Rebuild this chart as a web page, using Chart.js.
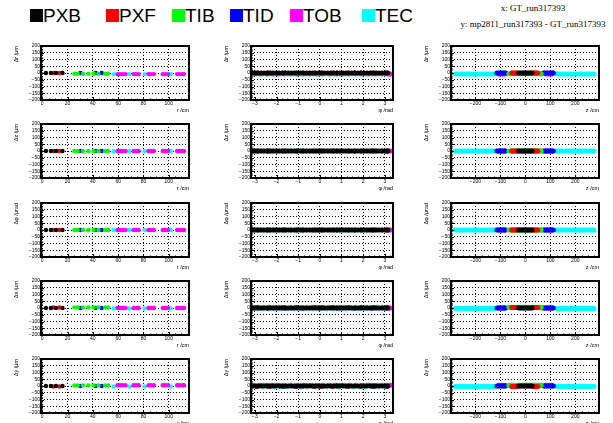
<!DOCTYPE html>
<html>
<head>
<meta charset="utf-8">
<script src="https://cdn.jsdelivr.net/npm/chart.js@4.4.0/dist/chart.umd.min.js"></script>
<style>
  body { margin: 0; width: 613px; height: 423px; background: #fff; position: relative; overflow: hidden;
         font-family: "Liberation Sans", Arial, sans-serif; }
  .sw { position: absolute; top: 9px; width: 13px; height: 13px; }
  .lab { position: absolute; top: 6px; font-size: 19px; line-height: 19px; color: #000; }
  .info { position: absolute; left: 458px; top: 0px; width: 150px; text-align: center;
          font-family: "Liberation Serif", "Times New Roman", serif; font-size: 9px; line-height: 16px; white-space: nowrap; }
  canvas { position: absolute; }
</style>
</head>
<body>
<div class="info">x: GT_run317393<br>y: mp2811_run317393 - GT_run317393</div>
<script>
const detectors = ['PXB', 'PXF', 'TIB', 'TID', 'TOB', 'TEC'];
const detColors = ['#000000', '#ff0000', '#00ff00', '#0000ff', '#ff00ff', '#00ffff'];

// module radius r (cm), read from the left column
const pxbR = [2.9, 6.8, 10.9, 16.0];
const pxfR = [8.9, 13.5];
const tibR = [25.4, 28.0, 32.2, 36.5, 40.6, 44.4, 49.8, 52.0];
const tidR = [30.2, 42.2, 47.0];
const tobR = [59.5, 61.5, 63.5, 65.8, 72.2, 74.2, 76.2, 84.0, 86.0, 88.2, 95.2, 97.2, 99.4,
              106.6, 108.6, 110.8, 112.0];
const tecR = [56.4, 68.8, 80.8, 101.6];

// module azimuth phi (rad), middle column
const pxbPhi = [-3.10, -2.97, -2.84, -2.71, -2.58, -2.44, -2.30, -2.16, -2.02, -1.88, -1.74, -1.60, -1.46,
                -1.32, -1.18, -1.04, -0.90, -0.76, -0.62, -0.48, -0.34, -0.20, -0.06, 0.08, 0.22, 0.36,
                0.50, 0.64, 0.78, 0.92, 1.06, 1.20, 1.34, 1.48, 1.62, 1.76, 1.90, 2.04, 2.18, 2.32, 2.46,
                2.60, 2.74, 2.88, 3.02, 3.14];
const pxfPhi = [-2.9, -2.3, -1.7, -1.1, -0.25, 0.1, 0.58, 1.3, 1.9, 2.5, 3.1];
const tibPhi = [-3.1, -2.85, -2.6, -2.35, -2.1, -1.85, -1.6, -1.35, -1.1, -0.85, -0.6, -0.35, -0.1, 0.15,
                0.4, 0.65, 0.9, 1.15, 1.4, 1.65, 1.9, 2.15, 2.4, 2.65, 2.9, 3.12];
const tidPhi = [-3.17, -2.4, -1.6, -0.8, 0.0, 0.8, 1.6, 2.4, 3.1];
const tobPhi = [-3.05, -2.75, -2.45, -2.2, -1.95, -1.65, -1.35, -1.05, -0.75, -0.45, -0.15, 0.15, 0.45,
                0.75, 1.05, 1.35, 1.65, 1.95, 2.25, 2.55, 2.85, 3.1, 3.2, 3.26];
const tecPhi = [-3.12, -2.9, -2.65, -2.4, -2.1, -1.8, -1.5, -1.2, -0.9, -0.6, -0.3, 0.0, 0.3, 0.6, 0.9,
                1.2, 1.5, 1.8, 2.1, 2.4, 2.7, 3.0];

// module z (cm), right column
const pxbZ = [-27, -21, -15, -9, -3, 3, 9, 15, 21, 27];
const pxfZ = [-55, -50, -45, -40, -35, -31, 31, 35, 40, 45, 50];
const tibZ = [-66, -60, -54, -48, -42, -36, -30, -24, -18, -12, -6, 0, 6, 12, 18, 24, 30, 36, 42, 48,
              54, 59, 63];
const tidZ = [-114, -108, -102, -96, -90, -84, -79, 73, 78, 84, 90, 96, 102, 108, 112];
const tobZ = [-106, -98, -90, -82, 62, 82, 90, 98, 106];
const tecZ = [-281, -273, -265, -257, -249, -241, -233, -225, -217, -209, -201, -193, -185, -177, -169,
              -161, -153, -145, -137, -129, -124, 126, 132, 140, 148, 156, 164, 172, 180, 188, 196, 204,
              212, 220, 228, 236, 244, 252, 260, 268, 275];

// typical difference per detector (um / urad), one list per row
const deltaR = [0, 0, -6, 0, -8, -8];
const deltaZ = [0, 0, 0, 0, 0, 0];
const deltaPhi = [0, 0, 0, 0, 0, 0];
const deltaX = [0, 4, 5, 0, 0, -4];
const deltaY = [0, -4, 5, 0, 6, -4];

const rTicks = [0, 20, 40, 60, 80, 100];
const phiTicks = [-3, -2, -1, 0, 1, 2, 3];
const zTicks = [-200, -100, 0, 100, 200];
const deltaTicks = [-200, -150, -100, -50, 0, 50, 100, 150, 200];

const xTitles = ['r /cm', 'φ /rad', 'z /cm'];
const yTitles = ['Δr /μm', 'Δz /μm', 'Δφ /μrad', 'Δx /μm', 'Δy /μm'];

const columnX = [
  [pxbR, pxfR, tibR, tidR, tobR, tecR],
  [pxbPhi, pxfPhi, tibPhi, tidPhi, tobPhi, tecPhi],
  [pxbZ, pxfZ, tibZ, tidZ, tobZ, tecZ]
];
const rowDelta = [deltaR, deltaZ, deltaPhi, deltaX, deltaY];
const columnTicks = [rTicks, phiTicks, zTicks];

// layout of the frames
const colBox = [{ left: 41, width: 148, min: -1, max: 116, minor: 5 },
                { left: 251, width: 142, min: -3.18, max: 3.38, minor: 0.25 },
                { left: 451, width: 148, min: -298, max: 295, minor: 25 }];
const rowTop = [46, 124, 203, 281, 359];
const plotH = 54;
const yAxisW = 29, xAxisH = 14, padTop = 4, padRight = 5;

Chart.defaults.font.family = '"Liberation Sans", Arial, sans-serif';
Chart.defaults.color = '#000';

// legend along the top
const legendX = [30, 106, 172, 230, 290, 362];
detectors.forEach((d, i) => {
  const sw = document.createElement('div');
  sw.className = 'sw';
  sw.style.left = legendX[i] + 'px';
  sw.style.background = detColors[i];
  document.body.appendChild(sw);
  const lab = document.createElement('div');
  lab.className = 'lab';
  lab.style.left = (legendX[i] + 13) + 'px';
  lab.textContent = d;
  document.body.appendChild(lab);
});

function fmt(v) {
  return String(v).replace('-', '\u2212');
}

// ROOT style frame with inner tick marks
const framePlugin = {
  id: 'frame',
  afterDraw(chart) {
    const { ctx, chartArea: a } = chart;
    const xs = chart.scales.x, ys = chart.scales.y;
    const minor = chart.options.plugins.frame.minor;
    const major = chart.options.plugins.frame.major;
    ctx.save();
    ctx.strokeStyle = '#000';
    ctx.lineWidth = 1;
    ctx.beginPath();
    for (let v = -200; v <= 200; v += 10) {
      const p = Math.round(ys.getPixelForValue(v)) + 0.5;
      const len = v % 50 === 0 ? 3 : 1.5;
      ctx.moveTo(a.left, p);
      ctx.lineTo(a.left + len, p);
    }
    let start = Math.ceil(xs.min / minor) * minor;
    for (let v = start; v <= xs.max + 1e-9; v += minor) {
      const p = Math.round(xs.getPixelForValue(v)) + 0.5;
      const isMajor = major.some(m => Math.abs(m - v) < 1e-6);
      const len = isMajor ? 3 : 1.5;
      ctx.moveTo(p, a.bottom);
      ctx.lineTo(p, a.bottom - len);
    }
    ctx.stroke();
    ctx.lineWidth = 2;
    ctx.strokeRect(a.left, a.top, a.right - a.left, a.bottom - a.top);
    ctx.restore();
  }
};

function makePanel(row, col) {
  const box = colBox[col];
  const canvas = document.createElement('canvas');
  const w = box.width + yAxisW + padRight;
  const h = plotH + padTop + xAxisH;
  canvas.width = w;
  canvas.height = h;
  canvas.style.left = (box.left - yAxisW) + 'px';
  canvas.style.top = (rowTop[row] - padTop) + 'px';
  document.body.appendChild(canvas);

  const datasets = detectors.map((d, i) => ({
    label: d,
    data: columnX[col][i].map(x => ({ x: x, y: rowDelta[row][i] })),
    backgroundColor: detColors[i],
    borderWidth: 0,
    pointRadius: col === 0 ? 2.2 : 2.5,
    pointHoverRadius: 2.5
  }));

  new Chart(canvas, {
    type: 'scatter',
    data: { datasets: datasets },
    plugins: [framePlugin],
    options: {
      responsive: false,
      animation: false,
      events: [],
      layout: { padding: { top: padTop, right: padRight, left: 0, bottom: 0 } },
      plugins: {
        legend: { display: false },
        tooltip: { enabled: false },
        frame: { minor: box.minor, major: columnTicks[col] }
      },
      scales: {
        x: {
          type: 'linear',
          min: box.min,
          max: box.max,
          afterBuildTicks: axis => { axis.ticks = columnTicks[col].map(v => ({ value: v })); },
          afterFit: scale => { scale.height = xAxisH; },
          grid: { color: '#000', lineWidth: 1, drawTicks: false },
          border: { display: false, dash: [1, 2] },
          ticks: { autoSkip: false, maxRotation: 0, padding: 1, font: { size: 5 }, callback: v => fmt(v) },
          title: { display: true, text: xTitles[col], align: 'end', font: { size: 5.5 }, padding: { top: 0, bottom: 0 } }
        },
        y: {
          type: 'linear',
          min: -200,
          max: 200,
          afterBuildTicks: axis => { axis.ticks = deltaTicks.map(v => ({ value: v })); },
          afterFit: scale => { scale.width = yAxisW; },
          grid: { color: '#000', lineWidth: 1, drawTicks: false },
          border: { display: false, dash: [1, 2] },
          ticks: { autoSkip: false, padding: 1, font: { size: 5 }, callback: v => fmt(v) },
          title: { display: true, text: yTitles[row], align: 'end', font: { size: 5.5 }, padding: { top: 1, bottom: 0 } }
        }
      }
    }
  });
}

for (let r = 0; r < 5; r++) {
  for (let c = 0; c < 3; c++) {
    makePanel(r, c);
  }
}
</script>
</body>
</html>
